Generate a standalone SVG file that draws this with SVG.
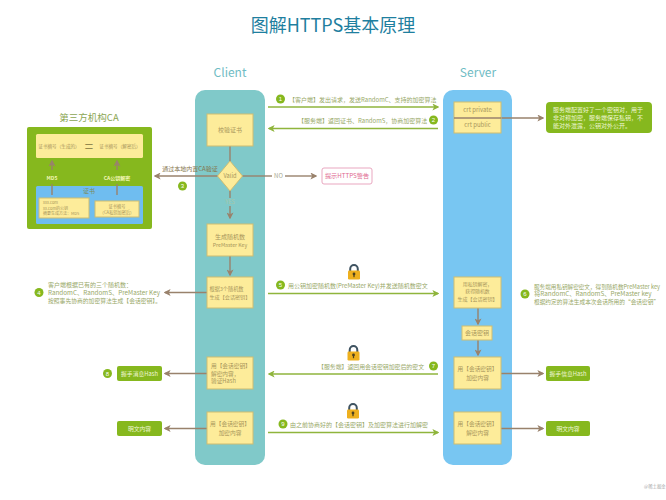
<svg xmlns="http://www.w3.org/2000/svg" width="666" height="500" viewBox="0 0 666 500">
<style>
text{font-family:"Noto Sans CJK SC","Liberation Sans",sans-serif}
.box{fill:#fdec9a;stroke:#cdbd72;stroke-width:1}
.bt{font-size:5.700px;fill:#a8965c;text-anchor:middle}
.bs{font-size:5.700px;fill:#a8965c}
.lbl{font-size:6px;fill:#98a868}
.gb{fill:#86b81e}
.gt{font-size:5.800px;fill:#eef6d4;text-anchor:middle}
.nt{font-size:6px;fill:#eef6d4}
.num{font-size:6px;fill:#fff;text-anchor:middle;font-family:"Liberation Sans",sans-serif}
.circ{fill:#86b81e}
.br{stroke:#99826c;stroke-width:1.400;fill:none}
.brm{marker-end:url(#ab)}
.grn{stroke:#8fb53c;stroke-width:1.400;fill:none;marker-end:url(#ag)}
.col{font-size:12px;fill:#6fbcc4;text-anchor:middle}
.body{fill:#eeb01e}
.shk{fill:none;stroke:#3f5361;stroke-width:2}
.hole{fill:#4a4020}
</style>
<defs>
<marker id="ab" viewBox="0 0 10 10" refX="8" refY="5" markerWidth="7" markerHeight="7" markerUnits="userSpaceOnUse" orient="auto"><path d="M0 0L10 5L0 10L2.500 5Z" fill="#99826c"/></marker>
<marker id="ag" viewBox="0 0 10 10" refX="8" refY="5" markerWidth="7" markerHeight="7" markerUnits="userSpaceOnUse" orient="auto"><path d="M0 0L10 5L0 10L2.500 5Z" fill="#8fb53c"/></marker>
<g id="lock"><path class="shk" d="M-3.800 0V-2.500A3.800 4 0 0 1 3.800 -2.500V0"/><rect class="body" x="-6" y="-1" width="12" height="9" rx="1.200"/><circle class="hole" cx="0" cy="2.500" r="1.400"/><rect class="hole" x="-.6" y="2.500" width="1.200" height="3.200"/></g>
</defs>
<rect width="666" height="500" fill="#fff"/>
<text x="333" y="32" font-size="18" fill="#1f7f9f" text-anchor="middle">图解HTTPS基本原理</text>
<g id="client-lane"><rect x="195" y="90" width="70" height="375" rx="10" fill="#80c9c9"/><text class="col" x="230" y="77">Client</text></g>
<g id="server-lane"><rect x="443" y="90" width="69" height="375" rx="10" fill="#78c6f2"/><text class="col" x="478" y="77">Server</text></g>
<g id="ca">
<text x="89" y="121" font-size="9.500" fill="#8ba653" text-anchor="middle">第三方机构CA</text>
<rect x="27" y="127" width="125" height="102" rx="2" fill="#86b81e"/>
<rect x="36" y="134" width="107" height="24" rx="1.500" fill="#fdec9a"/>
<text class="bt" style="font-size:4.600px" x="59" y="148">证书摘号（生成的）</text>
<text x="89" y="152" font-size="15" fill="#948a50" text-anchor="middle">=</text>
<text class="bt" style="font-size:4.600px" x="120" y="148">证书摘号（解密后）</text>
<rect x="36" y="186" width="107" height="38" rx="1.500" fill="#6fbdf0"/>
<text x="89" y="193" font-size="6" fill="#7d8a58" text-anchor="middle">证书</text>
<rect x="39" y="198" width="50" height="20" class="box"/>
<text class="bs" style="font-size:4px" x="43" y="204">xxx.com</text>
<text class="bs" style="font-size:4px" x="43" y="209.500">xx.com的公钥</text>
<text class="bs" style="font-size:4px" x="43" y="215">摘要生成方法：MD5</text>
<rect x="95" y="201" width="44" height="16" class="box"/>
<text class="bt" style="font-size:4.200px" x="117" y="207.500">证书摘号</text>
<text class="bt" style="font-size:4.200px" x="117" y="213.500">（CA私钥加密后）</text>
<path class="br brm" d="M52 170V161"/><path class="br" d="M52 195V184"/>
<path class="br brm" d="M117 170V161"/><path class="br" d="M117 195V184"/>
<text x="52" y="179.500" font-size="5" font-weight="bold" fill="#f4f7b8" text-anchor="middle">MD5</text>
<text x="117" y="179.500" font-size="5" font-weight="bold" fill="#f4f7b8" text-anchor="middle">CA公钥解密</text>
</g>
<g id="connectors">
<path class="br" d="M230 146V161"/>
<path class="br" d="M230 191V198"/>
<path class="br brm" d="M230 206V218"/>
<path class="br brm" d="M230 256V275"/>
<path class="br brm" d="M218 176H155"/>
<path class="br" d="M242 176H272"/>
<path class="br brm" d="M285 176H316"/>
<path class="br brm" d="M207 292.500H165"/>
<path class="br brm" d="M207 373.500H165"/>
<path class="br brm" d="M207 428.500H165"/>
<path class="br brm" d="M478 308V324"/>
<path class="br brm" d="M478 340V355"/>
<path class="br brm" d="M454 118H543"/>
<path class="br brm" d="M501 373.500H543"/>
<path class="br brm" d="M501 428.500H543"/>
<path class="grn" d="M268 107H438"/>
<path class="grn" d="M438 128.500H269"/>
<path class="grn" d="M268 293.500H438"/>
<path class="grn" d="M438 374H269"/>
<path class="grn" d="M268 432.500H438"/>
</g>
<g id="n-check"><rect class="box" x="207" y="114" width="46" height="32"/><text class="bt" style="font-size:6px" x="230" y="132">校验证书</text></g>
<g id="n-valid"><path d="M230 161L242.500 176L230 191L217.500 176Z" fill="#fdec9a" stroke="#cdbd72"/><text class="bt" x="230" y="178">Valid</text></g>
<text x="230" y="204" font-size="5.500" fill="#a8c8a8" text-anchor="middle">YES</text>
<text x="278.500" y="178" font-size="6" fill="#a8a890" text-anchor="middle">NO</text>
<text x="190" y="171" font-size="6" fill="#84744a" text-anchor="middle">通过本地内置CA验证</text>
<g id="n-random"><rect class="box" x="207" y="224" width="46" height="32"/><text class="bt" style="font-size:6px" x="230" y="239">生成随机数</text><text class="bt" x="230" y="246.500" style="font-size:5.200px">PreMaster Key</text></g>
<g id="n-3random"><rect class="box" x="207" y="277" width="46" height="31"/><text class="bs" x="209.500" y="290.500" style="font-size:5.200px">根据3个随机数</text><text class="bs" x="209.500" y="298.500" style="font-size:5.100px">生成【会话密钥】</text></g>
<g id="n-cdec"><rect class="box" x="207" y="357" width="46" height="32"/><text class="bs" x="211" y="368">用【会话密钥】</text><text class="bs" x="211" y="375.500">解密内容，</text><text class="bs" x="211" y="383">验证Hash</text></g>
<g id="n-cenc"><rect class="box" x="207" y="412" width="46" height="32"/><text class="bt" x="230" y="426">用【会话密钥】</text><text class="bt" x="230" y="435">加密内容</text></g>
<g id="n-warn"><rect x="322" y="168" width="50" height="16" rx="2" fill="#fff" stroke="#e9a7c0"/><text x="347" y="178" font-size="6.200" fill="#e0688f" text-anchor="middle">提示HTTPS警告</text></g>
<g id="n-crt"><rect class="box" x="454" y="102" width="47" height="31"/><text class="bt" style="font-size:6px" x="477.500" y="112">crt private</text><text class="bt" style="font-size:6px" x="477.500" y="127">crt public</text></g>
<path class="br" d="M454 118H501"/>
<g id="n-note"><rect class="gb" x="546" y="102" width="106" height="31" rx="4"/><text class="nt" x="553" y="111.500">服务端配置好了一个密钥对，用于</text><text class="nt" x="553" y="119.500">非对称加密，服务端保存私钥，不</text><text class="nt" x="553" y="127.500">能对外泄露，公钥对外公开。</text></g>
<g id="n-sdec"><rect class="box" x="454" y="277" width="47" height="31"/><text class="bt" x="477.500" y="285.500" style="font-size:4.900px">用私钥解密，</text><text class="bt" x="477.500" y="293" style="font-size:4.900px">获得随机数</text><text class="bt" x="477.500" y="300.500" style="font-size:5px">生成【会话密钥】</text></g>
<g id="n-skey"><rect class="box" x="462" y="326" width="30" height="14"/><text class="bt" style="font-size:6px" x="477" y="335.200">会话密钥</text></g>
<g id="n-senc"><rect class="box" x="454" y="357" width="47" height="32"/><text class="bt" x="477.500" y="371">用【会话密钥】</text><text class="bt" x="477.500" y="379.500">加密内容</text></g>
<g id="n-sdec2"><rect class="box" x="454" y="412" width="47" height="32"/><text class="bt" x="477.500" y="426">用【会话密钥】</text><text class="bt" x="477.500" y="435">解密内容</text></g>
<g id="n-hash-l"><rect class="gb" x="117" y="366" width="45" height="15" rx="2"/><text class="gt" x="139.500" y="375.700">握手消息Hash</text></g>
<g id="n-plain-l"><rect class="gb" x="117" y="421" width="45" height="15" rx="2"/><text class="gt" x="139.500" y="430.700">明文内容</text></g>
<g id="n-hash-r"><rect class="gb" x="546" y="366" width="44" height="15" rx="2"/><text class="gt" x="568" y="375.700">握手信息Hash</text></g>
<g id="n-plain-r"><rect class="gb" x="546" y="421" width="44" height="15" rx="2"/><text class="gt" x="568" y="430.700">明文内容</text></g>
<g id="steps">
<circle class="circ" cx="280.500" cy="99" r="4.500"/><text class="num" x="280.500" y="101.200">1</text>
<circle class="circ" cx="433.500" cy="120" r="4.500"/><text class="num" x="433.500" y="122.200">2</text>
<circle class="circ" cx="182.500" cy="186" r="4.500"/><text class="num" x="182.500" y="188.200">3</text>
<circle class="circ" cx="39" cy="292.500" r="4.500"/><text class="num" x="39" y="294.700">4</text>
<circle class="circ" cx="280.500" cy="285" r="4.500"/><text class="num" x="280.500" y="287.200">5</text>
<circle class="circ" cx="525" cy="294" r="4.500"/><text class="num" x="525" y="296.200">6</text>
<circle class="circ" cx="433.500" cy="366" r="4.500"/><text class="num" x="433.500" y="368.200">7</text>
<circle class="circ" cx="107.500" cy="373.500" r="4.500"/><text class="num" x="107.500" y="375.700">8</text>
<circle class="circ" cx="283" cy="424" r="4.500"/><text class="num" x="283" y="426.200">9</text>
</g>
<g id="labels">
<text class="lbl" x="289" y="101.500">【客户端】发出请求，发送RandomC、支持的加密算法</text>
<text class="lbl" x="298" y="122.500">【服务端】返回证书、RandomS，协商加密算法</text>
<text class="lbl" x="48" y="287">客户端根据已有的三个随机数：</text>
<text class="lbl" x="48" y="294.500" style="font-size:6.300px">RandomC、RandomS、PreMaster Key</text>
<text class="lbl" x="48" y="302.500" style="font-size:5.800px">按照事先协商的加密算法生成【会话密钥】。</text>
<text class="lbl" x="288" y="287.500">用公钥加密随机数(PreMaster Key)并发送随机数密文</text>
<text class="lbl" x="534" y="288.500" style="font-size:5.600px">服务端用私钥解密密文，得到随机数PreMaster key</text>
<text class="lbl" x="534" y="296" style="font-size:6.300px">将RandomC、RandomS、PreMaster key</text>
<text class="lbl" x="534" y="303.500" style="font-size:5.700px">根据约定的算法生成本次会话所用的“会话密钥”</text>
<text class="lbl" x="318" y="368.500" style="font-size:5.900px">【服务端】返回用会话密钥加密后的密文</text>
<text class="lbl" x="290" y="426.500">由之前协商好的【会话密钥】及加密算法进行加解密</text>
<text x="644" y="488" font-size="4.400" fill="#aaa">@稀土掘金</text>
</g>
<g id="locks"><use href="#lock" x="354" y="271.500"/><use href="#lock" x="353.500" y="352.500"/><use href="#lock" x="353" y="410.500"/></g>
</svg>
